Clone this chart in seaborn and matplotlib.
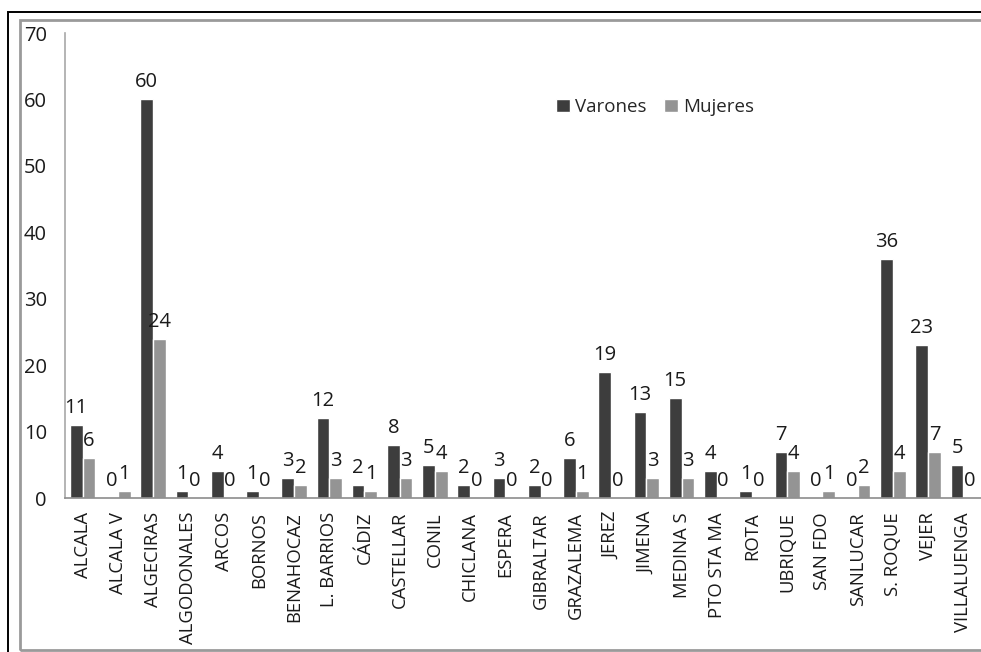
import seaborn as sns
import matplotlib.pyplot as plt
import pandas as pd
from matplotlib.patches import Rectangle

# Chart data
municipios = [
    "ALCALA", "ALCALA V", "ALGECIRAS", "ALGODONALES", "ARCOS", "BORNOS",
    "BENAHOCAZ", "L. BARRIOS", "CÁDIZ", "CASTELLAR", "CONIL", "CHICLANA",
    "ESPERA", "GIBRALTAR", "GRAZALEMA", "JEREZ", "JIMENA", "MEDINA S",
    "PTO STA MA", "ROTA", "UBRIQUE", "SAN FDO", "SANLUCAR", "S. ROQUE",
    "VEJER", "VILLALUENGA",
]
varones = [11, 0, 60, 1, 4, 1, 3, 12, 2, 8, 5, 2, 3, 2, 6, 19, 13, 15, 4, 1, 7, 0, 0, 36, 23, 5]
mujeres = [6, 1, 24, 0, 0, 0, 2, 3, 1, 3, 4, 0, 0, 0, 1, 0, 3, 3, 0, 0, 4, 1, 2, 4, 7, 0]
series = ["Varones", "Mujeres"]
y_ticks = [0, 10, 20, 30, 40, 50, 60, 70]

# Long format for seaborn
df = pd.DataFrame({
    "municipio": municipios * 2,
    "sexo": [series[0]] * len(municipios) + [series[1]] * len(municipios),
    "n": varones + mujeres,
})

sns.set_style("white")
plt.rcParams["font.family"] = ["Open Sans", "DejaVu Sans"]

fig = plt.figure(figsize=(9.81, 6.52), dpi=100)
W, H = 981, 652
ax = fig.add_axes([65 / W, 1 - 498 / H, (981 - 65) / W, (498 - 33) / H])

sns.barplot(
    data=df, x="municipio", y="n", hue="sexo", order=municipios,
    palette={"Varones": "#3d3d3d", "Mujeres": "#949494"},
    width=0.72, gap=0, ax=ax, legend=True, saturation=1,
)

for cont in ax.containers:
    ax.bar_label(cont, fmt="%d", padding=5, fontsize=14.5, color="#1a1a1a")

ax.set_xlim(-0.5, len(municipios) - 0.5)
ax.set_ylim(0, 70)
ax.set_yticks(y_ticks)
ax.set_xlabel("")
ax.set_ylabel("")
ax.tick_params(axis="y", length=0, pad=13, labelsize=14.5, labelcolor="#1a1a1a")
ax.tick_params(axis="x", length=0, pad=10, labelsize=13.3, labelcolor="#1a1a1a")
plt.setp(ax.get_xticklabels(), rotation=90)

sns.despine(ax=ax, top=True, right=True)
ax.spines["left"].set_color("#a8a8a8")
ax.spines["bottom"].set_color("#8c8c8c")
ax.spines["left"].set_linewidth(1.2)
ax.spines["bottom"].set_linewidth(1.2)

ax.legend(
    loc="center", bbox_to_anchor=(655 / W, 1 - 107 / H), bbox_transform=fig.transFigure,
    ncol=2, frameon=False, fontsize=13.5, handlelength=0.75, handleheight=0.75,
    handletextpad=0.3, columnspacing=0.9,
)

# Outer frames around the figure
fig.add_artist(Rectangle((8 / W, -0.1), 1.2, 1.1 - 12 / H, transform=fig.transFigure,
                         fill=False, edgecolor="black", linewidth=1.4))
fig.add_artist(Rectangle((20 / W, 2 / H), 1.2, 1 - 22 / H, transform=fig.transFigure,
                         fill=False, edgecolor="#9a9a9a", linewidth=2))

fig.savefig("out.png", dpi=100)
